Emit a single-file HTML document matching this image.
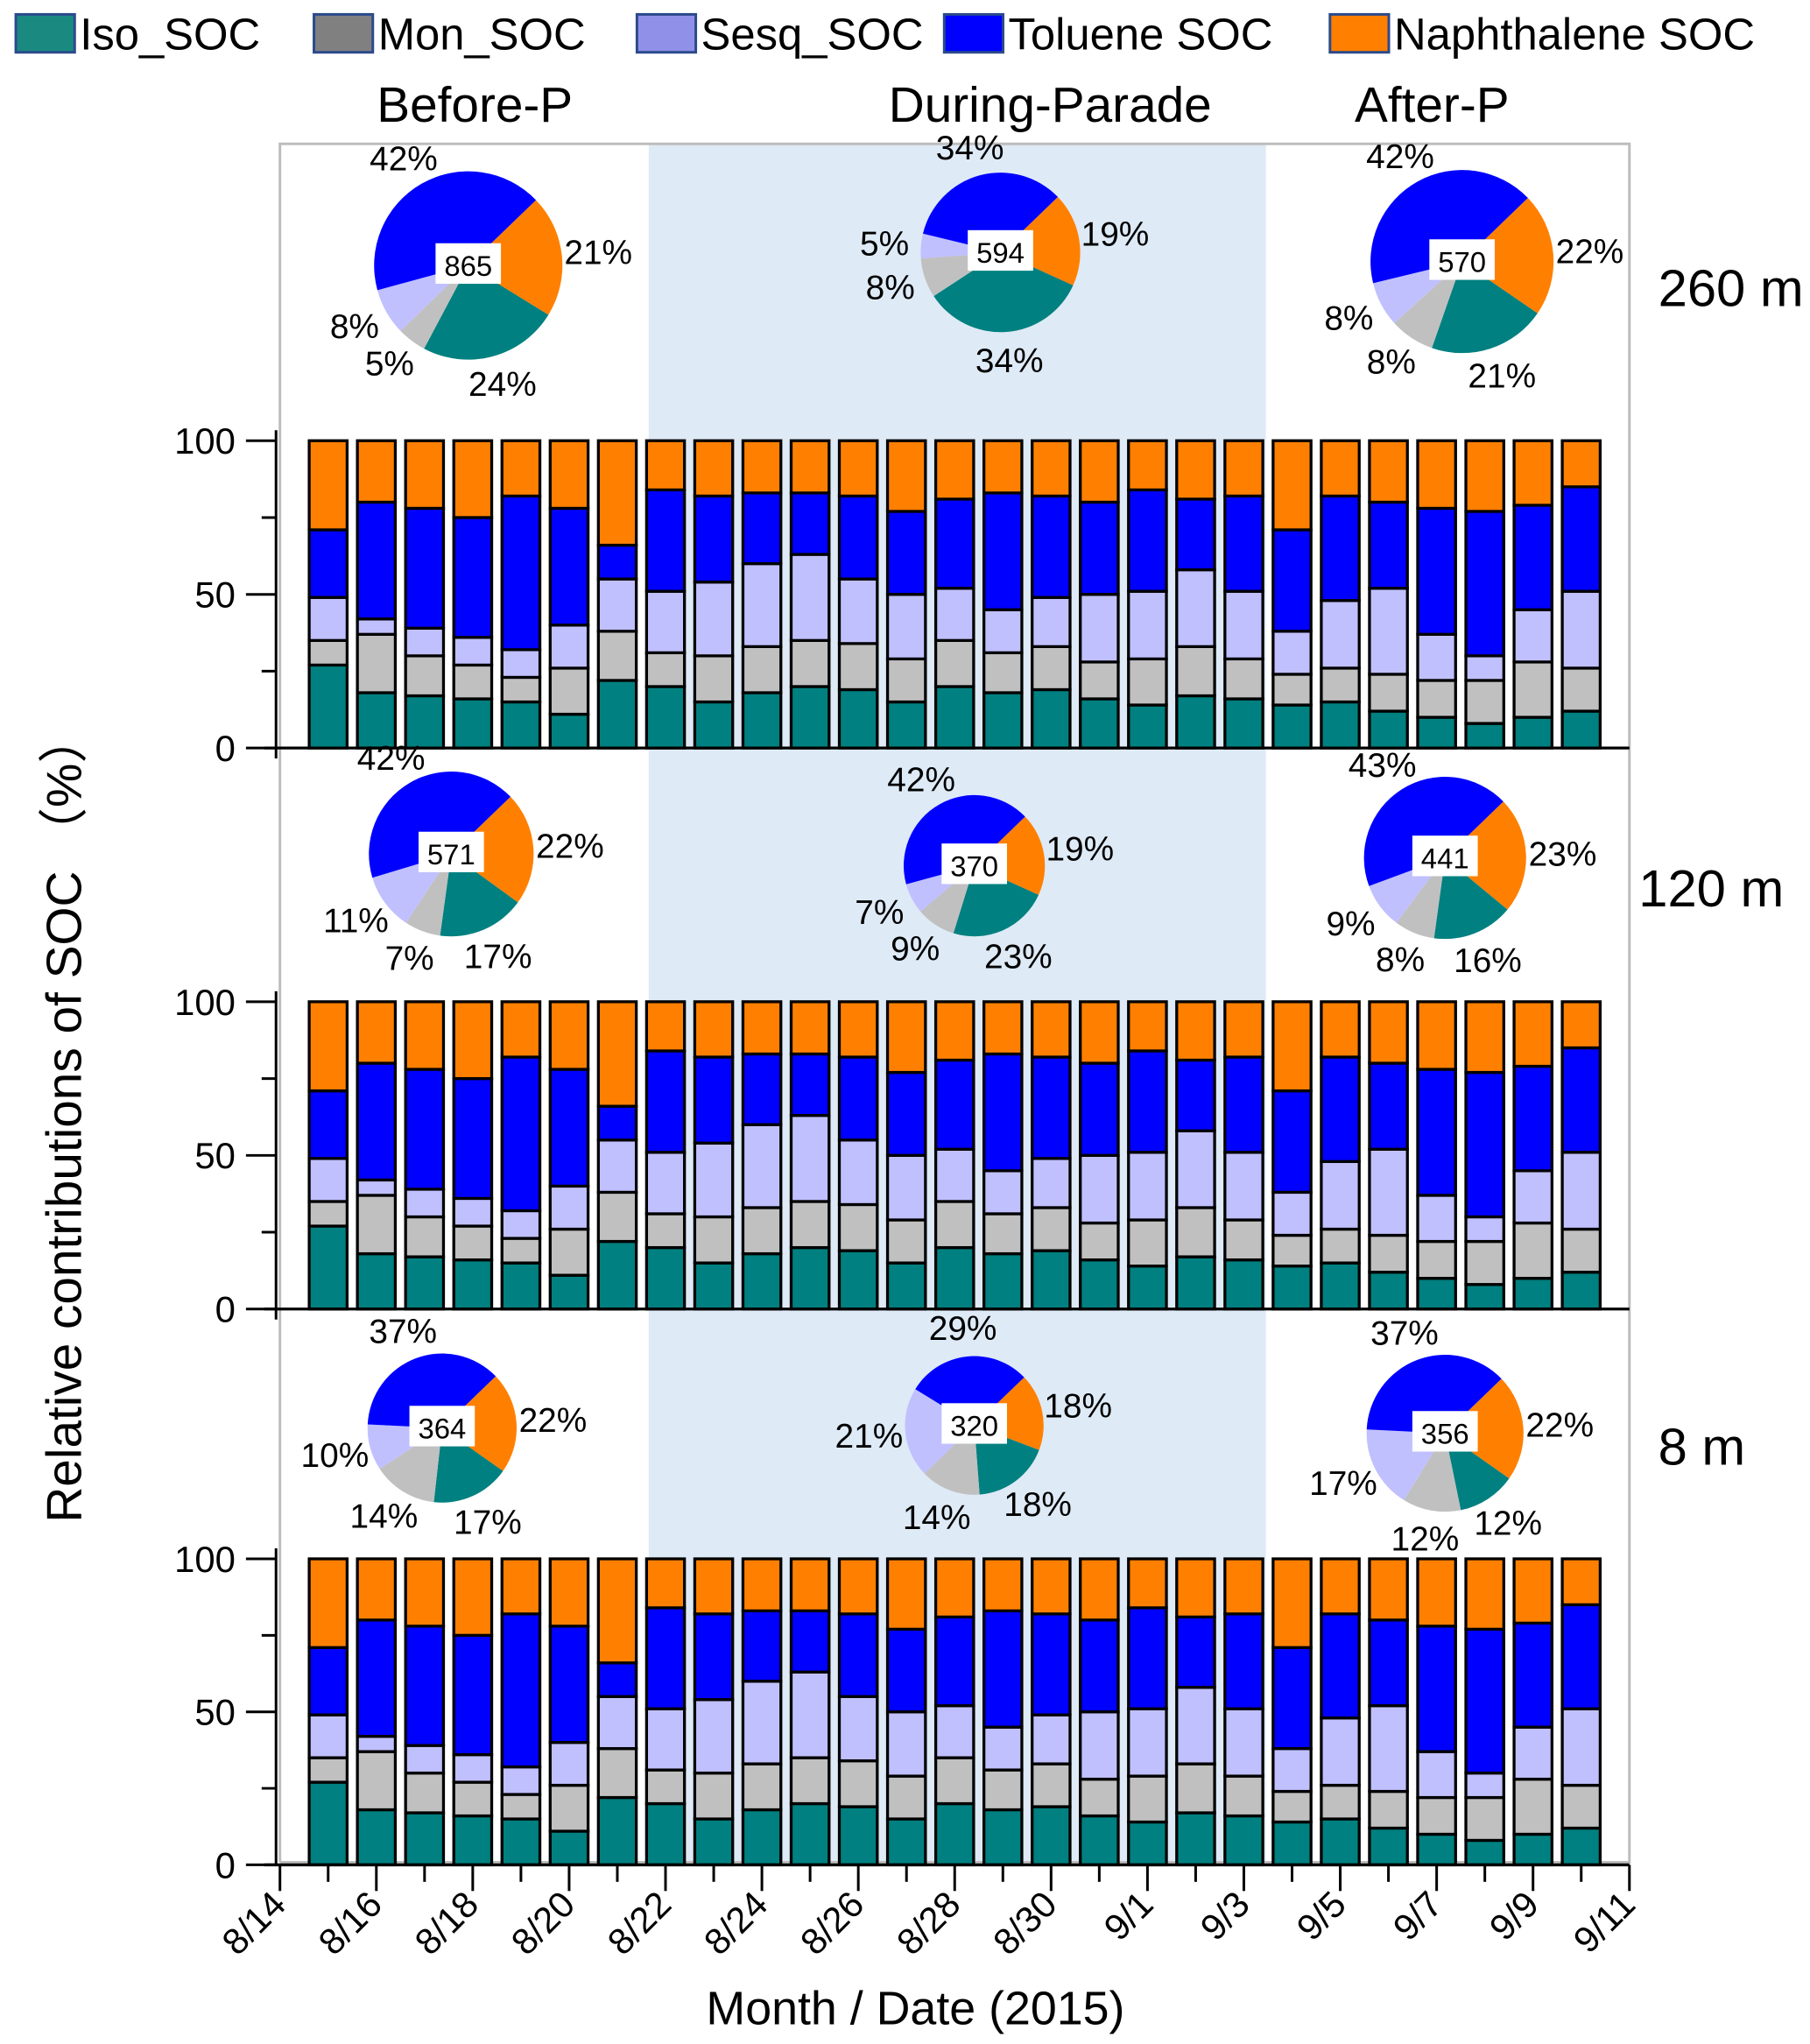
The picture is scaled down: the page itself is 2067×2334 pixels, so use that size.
<!DOCTYPE html>
<html><head><meta charset="utf-8"><style>
html,body{margin:0;padding:0;background:#fff;}
svg{display:block;font-family:"Liberation Sans",Arial,sans-serif;}
</style></head><body>
<svg id="chart" width="2067" height="2334" viewBox="0 0 1384 1563" xmlns="http://www.w3.org/2000/svg">
<g id="root"></g>
</svg>
<script>
// ---- data ----
const seriesNames = ["Iso_SOC","Mon_SOC","Sesq_SOC","Toluene SOC","Naphthalene SOC"];
const colors = ["#008080","#c0c0c0","#c0c0ff","#0000ff","#ff8000"];
const legendColors = ["#1a8a80","#808080","#9090e8","#0000ff","#ff8000"];
const isoVals  = [27,18,17,16,15,11,22,20,15,18,20,19,15,20,18,19,16,14,17,16,14,15,12,10,8,10,12];
const monVals  = [8,19,13,11,8,15,16,11,15,15,15,15,14,15,13,14,12,15,16,13,10,11,12,12,14,18,14];
const sesqVals = [14,5,9,9,9,14,17,20,24,27,28,21,21,17,14,16,22,22,25,22,14,22,28,15,8,17,25];
const tolVals  = [22,38,39,39,50,38,11,33,28,23,20,27,27,29,38,33,30,33,23,31,33,34,28,41,47,34,34];
const dayIndex = [1,2,3,4,5,6,7,8,9,10,11,12,13,14,15,16,17,18,19,20,21,22,23,24,25,26,27];
const tickLabels = ["8/14","8/16","8/18","8/20","8/22","8/24","8/26","8/28","8/30","9/1","9/3","9/5","9/7","9/9","9/11"];
const yTicks = [0,50,100];
const heights = ["260 m","120 m","8 m"];
const periods = ["Before-P","During-Parade","After-P"];
const pieTotals = [[865,594,570],[571,370,441],[364,320,356]];
const piePcts = [
 [[24,5,8,42,21],[34,8,5,34,19],[21,8,8,42,22]],
 [[17,7,11,42,22],[23,9,7,42,19],[16,8,9,43,23]],
 [[17,14,10,37,22],[18,14,21,29,18],[12,12,17,37,22]]
];
// ---- layout ----
const NS="http://www.w3.org/2000/svg";
const root=document.getElementById('root');
function mk(tag,attrs,parent){const e=document.createElementNS(NS,tag);for(const k in attrs)e.setAttribute(k,attrs[k]);(parent||root).appendChild(e);return e;}
const X0=214,X1=1246,DAYS=28;
const xScale=d=>X0+d*(X1-X0)/DAYS;
const panels=[{y0:572,y100:337},{y0:1001,y100:766},{y0:1426,y100:1192}];
const pieGeo=[
 [[358,203,72],[765,193,61],[1118,200,70]],
 [[345,653,63],[745,662,54],[1105,656,62]],
 [[338,1092,57],[745,1090,53],[1105,1096,60]]
];

// shading & frame
let e=mk('rect',{x:496,y:110,width:472,height:1314,fill:'#deeaf6'});

e=mk('path',{d:`M${X0} 1424 V110 H${X1} V1424 H${X0}`,fill:'none',stroke:'#bdbdbd','stroke-width':2});


// legend
const legX=[12,240,487,722,1017];
seriesNames.forEach((n,i)=>{
 const g=mk('g',{});
 
 
 mk('rect',{x:legX[i],y:11,width:45,height:29,fill:legendColors[i],stroke:'#2b4a8c','stroke-width':2},g);
 const t=mk('text',{x:legX[i]+49,y:38,'font-size':34},g);t.textContent=n;
});

// period titles
[[363,'Before-P'],[803,'During-Parade'],[1095,'After-P']].forEach((p,i)=>{
 const t=mk('text',{x:p[0],y:93,'font-size':38,'text-anchor':'middle'});t.textContent=periods[i];
 
});
// height labels
[[1268,234],[1253,693],[1268,1120]].forEach((p,i)=>{
 const t=mk('text',{x:p[0],y:p[1],'font-size':40});t.textContent=heights[i];
 
});

const bw=29;
panels.forEach((P,pi)=>{
 const ys=v=>P.y0-(P.y0-P.y100)*v/100;
 const g=mk('g',{});
 
 dayIndex.forEach((d,i)=>{
  const vals=[isoVals[i],monVals[i],sesqVals[i],tolVals[i]];
  let cum=0;
  const cx=xScale(d);
  for(let s=0;s<5;s++){
   const v=s<4?vals[s]:100-cum;
   const r=mk('rect',{x:cx-bw/2,y:ys(cum+v),width:bw,height:ys(cum)-ys(cum+v),fill:colors[s],stroke:'#000','stroke-width':2.2},g);
   
   
   cum+=v;
  }
 });
 // axes
 mk('line',{x1:211,y1:P.y100-8,x2:211,y2:P.y0+(pi==2?0:8),stroke:'#000','stroke-width':2},g);
 mk('line',{x1:202,y1:P.y0,x2:X1,y2:P.y0,stroke:'#000','stroke-width':2.2},g);
 yTicks.forEach(t=>{
  mk('line',{x1:188,y1:ys(t),x2:211,y2:ys(t),stroke:'#000','stroke-width':2},g);
  const tx=mk('text',{x:180,y:ys(t)+10,'font-size':28,'text-anchor':'end'},g);tx.textContent=t;
 });
 [25,75].forEach(t=>mk('line',{x1:200,y1:ys(t),x2:211,y2:ys(t),stroke:'#000','stroke-width':2},g));
 // pies
 pieGeo[pi].forEach((G,k)=>{
  const [cx,cy,r]=G;
  const pg=mk('g',{});
  
  const pct=piePcts[pi][k];
  const tot=pct.reduce((a,b)=>a+b,0);
  const order=[4,0,1,2,3];
  let ang=-44;
  order.forEach(s=>{
   const sweep=pct[s]/tot*360;
   const a0=ang*Math.PI/180,a1=(ang+sweep)*Math.PI/180;
   const large=sweep>180?1:0;
   const p=mk('path',{d:`M${cx} ${cy} L${cx+r*Math.cos(a0)} ${cy+r*Math.sin(a0)} A${r} ${r} 0 ${large} 1 ${cx+r*Math.cos(a1)} ${cy+r*Math.sin(a1)} Z`,fill:colors[s]},pg);
   
   
   const am=(ang+sweep/2)*Math.PI/180;
   const lr=r+22;
   const lx=cx+(lr+6)*Math.cos(am),ly=cy+lr*Math.sin(am)+9;
   const t=mk('text',{x:lx,y:ly,'font-size':26,'text-anchor':'middle'},pg);t.textContent=pct[s]+'%';
   ang+=sweep;
  });
  mk('rect',{x:cx-25,y:cy-17,width:50,height:31,fill:'#fff'},pg);
  const tt=mk('text',{x:cx,y:cy+8,'font-size':22,'text-anchor':'middle'},pg);tt.textContent=pieTotals[pi][k];
 });
});

// x axis ticks
const xg=mk('g',{});

for(let d=0;d<=DAYS;d++){
 const major=d%2==0;
 mk('line',{x1:xScale(d),y1:1426,x2:xScale(d),y2:major?1446:1439,stroke:'#000','stroke-width':2},xg);
}
tickLabels.forEach((l,i)=>{
 const x=xScale(i*2);
 const t=mk('text',{x:x+6,y:1458,'font-size':28,'text-anchor':'end',transform:`rotate(-45 ${x+6} 1458)`},xg);
 t.textContent=l;
});
e=mk('text',{x:700,y:1548,'font-size':36,'text-anchor':'middle'});e.textContent='Month / Date (2015)';

e=mk('text',{x:62,y:855,'font-size':38,'text-anchor':'middle',transform:'rotate(-90 62 855)'});
e.textContent='Relative contributions of SOC （%）';
e.setAttribute('font-family','"Liberation Sans","Noto Sans CJK SC",sans-serif');

</script>
</body></html>
